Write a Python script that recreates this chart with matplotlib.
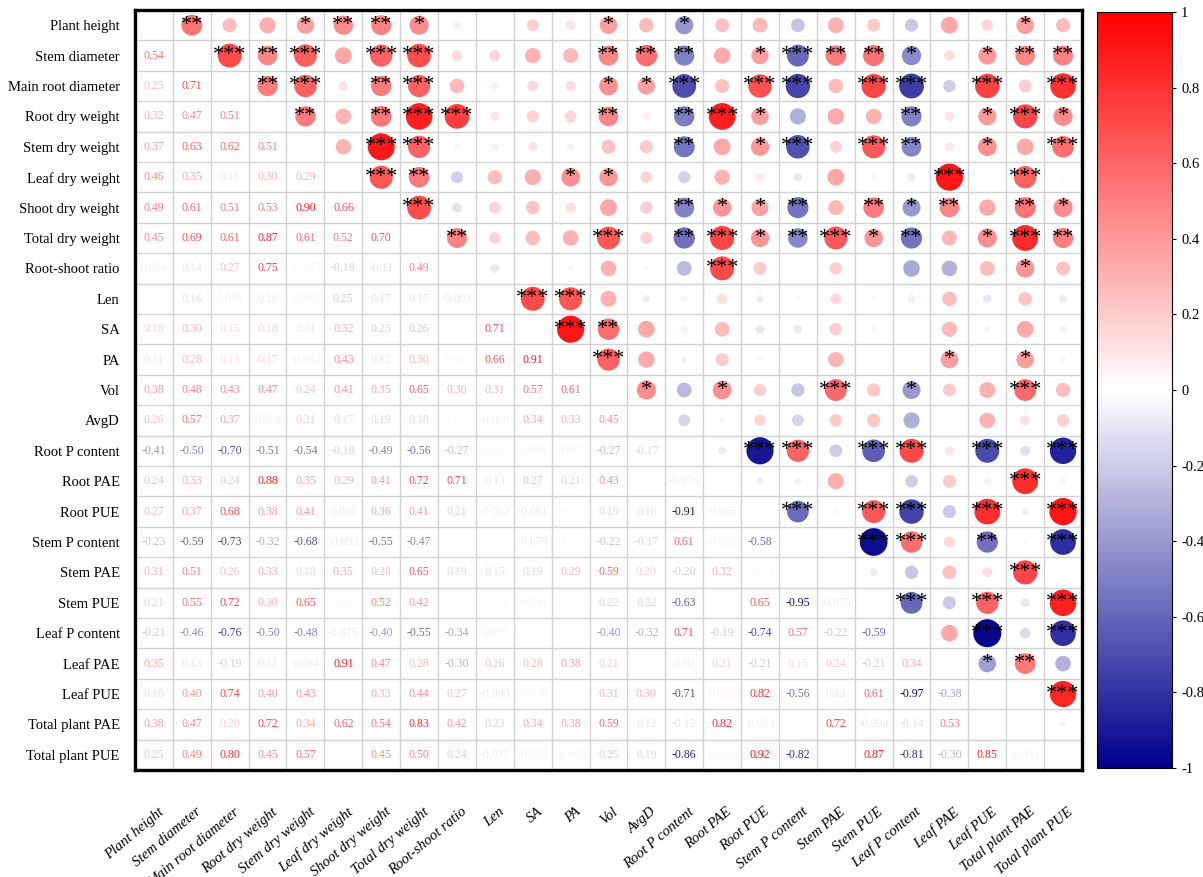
import numpy as np
import matplotlib.pyplot as plt
import matplotlib.transforms as mtransforms
from matplotlib.colors import LinearSegmentedColormap, Normalize
from matplotlib.cm import ScalarMappable
from matplotlib.ticker import FuncFormatter

plt.rcParams['font.family'] = ['Liberation Serif', 'DejaVu Serif']

variables = [
    "Plant height", "Stem diameter", "Main root diameter", "Root dry weight",
    "Stem dry weight", "Leaf dry weight", "Shoot dry weight", "Total dry weight",
    "Root-shoot ratio", "Len", "SA", "PA", "Vol", "AvgD", "Root P content",
    "Root PAE", "Root PUE", "Stem P content", "Stem PAE", "Stem PUE",
    "Leaf P content", "Leaf PAE", "Leaf PUE", "Total plant PAE", "Total plant PUE",
]

# lower triangle of the correlation matrix, row i holds columns 0..i-1
# (None = value not shown)
lower = [
    [],
    [0.54],
    [0.25, 0.71],
    [0.32, 0.47, 0.51],
    [0.37, 0.63, 0.62, 0.51],
    [0.46, 0.35, 0.11, 0.30, 0.29],
    [0.49, 0.61, 0.51, 0.53, 0.90, 0.66],
    [0.45, 0.69, 0.61, 0.87, 0.61, 0.52, 0.70],
    [0.064, 0.14, 0.27, 0.75, -0.037, -0.18, -0.11, 0.49],
    [None, 0.16, 0.078, 0.10, 0.065, 0.25, 0.17, 0.17, -0.093],
    [0.18, 0.30, 0.15, 0.18, 0.11, 0.32, 0.23, 0.26, None, 0.71],
    [0.11, 0.28, 0.13, 0.17, -0.062, 0.43, 0.13, 0.30, 0.045, 0.66, 0.91],
    [0.38, 0.48, 0.43, 0.47, 0.24, 0.41, 0.35, 0.65, 0.30, 0.31, 0.57, 0.61],
    [0.26, 0.57, 0.37, 0.068, 0.21, 0.17, 0.19, 0.18, -0.026, -0.069, 0.34, 0.33, 0.45],
    [-0.41, -0.50, -0.70, -0.51, -0.54, -0.18, -0.49, -0.56, -0.27, 0.047, 0.056, 0.057,
     -0.27, -0.17],
    [0.24, 0.33, 0.24, 0.88, 0.35, 0.29, 0.41, 0.72, 0.71, 0.13, 0.27, 0.21, 0.43, 0.034,
     -0.076],
    [0.27, 0.37, 0.68, 0.38, 0.41, 0.092, 0.36, 0.41, 0.21, -0.063, -0.091, -0.030, 0.19,
     0.16, -0.91, -0.065],
    [-0.23, -0.59, -0.73, -0.32, -0.68, -0.093, -0.55, -0.47, None, -0.028, -0.079, -0.017,
     -0.22, -0.17, 0.61, -0.056, -0.58],
    [0.31, 0.51, 0.26, 0.33, 0.18, 0.35, 0.28, 0.65, 0.19, 0.15, 0.19, 0.29, 0.59, 0.20,
     -0.20, 0.32, 0.039, None],
    [0.21, 0.55, 0.72, 0.30, 0.65, 0.045, 0.52, 0.42, -4.0e-4, -0.028, -0.041, -0.017, 0.22,
     0.22, -0.63, None, 0.65, -0.95, -0.075],
    [-0.21, -0.46, -0.76, -0.50, -0.48, -0.075, -0.40, -0.55, -0.34, 0.078, -0.0011, -0.016,
     -0.40, -0.32, 0.71, -0.19, -0.74, 0.57, -0.22, -0.59],
    [0.35, 0.13, -0.19, 0.11, 0.094, 0.91, 0.47, 0.28, -0.30, 0.26, 0.28, 0.38, 0.21, None,
     0.10, 0.21, -0.21, 0.15, 0.24, -0.21, 0.34],
    [0.16, 0.40, 0.74, 0.40, 0.43, None, 0.33, 0.44, 0.27, -0.090, -0.046, -0.0016, 0.31,
     0.30, -0.71, 0.063, 0.82, -0.56, 0.13, 0.61, -0.97, -0.38],
    [0.38, 0.47, 0.20, 0.72, 0.34, 0.62, 0.54, 0.83, 0.42, 0.23, 0.34, 0.38, 0.59, 0.12,
     -0.12, 0.82, -0.064, 0.026, 0.72, -0.094, -0.14, 0.53, None],
    [0.25, 0.49, 0.80, 0.45, 0.57, 0.026, 0.45, 0.50, 0.24, -0.077, -0.055, -0.043, 0.25,
     0.19, -0.86, 0.049, 0.92, -0.82, None, 0.87, -0.81, -0.30, 0.85, -0.044],
]

# significance stars for the upper triangle, row i holds columns i+1..24
stars = [
    [2, 0, 0, 1, 2, 2, 1, 0, 0, 0, 0, 1, 0, 1, 0, 0, 0, 0, 0, 0, 0, 0, 1, 0],
    [3, 2, 3, 0, 3, 3, 0, 0, 0, 0, 2, 2, 2, 0, 1, 3, 2, 2, 1, 0, 1, 2, 2],
    [2, 3, 0, 2, 3, 0, 0, 0, 0, 1, 1, 3, 0, 3, 3, 0, 3, 3, 0, 3, 0, 3],
    [2, 0, 2, 3, 3, 0, 0, 0, 2, 0, 2, 3, 1, 0, 0, 0, 2, 0, 1, 3, 1],
    [0, 3, 3, 0, 0, 0, 0, 0, 0, 2, 0, 1, 3, 0, 3, 2, 0, 1, 0, 3],
    [3, 2, 0, 0, 0, 1, 1, 0, 0, 0, 0, 0, 0, 0, 0, 3, 0, 3, 0],
    [3, 0, 0, 0, 0, 0, 0, 2, 1, 1, 2, 0, 2, 1, 2, 0, 2, 1],
    [2, 0, 0, 0, 3, 0, 2, 3, 1, 2, 3, 1, 2, 0, 1, 3, 2],
    [0, 0, 0, 0, 0, 0, 3, 0, 0, 0, 0, 0, 0, 0, 1, 0],
    [3, 3, 0, 0, 0, 0, 0, 0, 0, 0, 0, 0, 0, 0, 0],
    [3, 2, 0, 0, 0, 0, 0, 0, 0, 0, 0, 0, 0, 0],
    [3, 0, 0, 0, 0, 0, 0, 0, 0, 1, 0, 1, 0],
    [1, 0, 1, 0, 0, 3, 0, 1, 0, 0, 3, 0],
    [0, 0, 0, 0, 0, 0, 0, 0, 0, 0, 0],
    [0, 3, 3, 0, 3, 3, 0, 3, 0, 3],
    [0, 0, 0, 0, 0, 0, 0, 3, 0],
    [3, 0, 3, 3, 0, 3, 0, 3],
    [0, 3, 3, 0, 2, 0, 3],
    [0, 0, 0, 0, 3, 0],
    [3, 0, 3, 0, 3],
    [0, 3, 0, 3],
    [1, 2, 0],
    [0, 3],
    [0],
]

n = len(variables)
corr = np.full((n, n), np.nan)
for i, row in enumerate(lower):
    for j, v in enumerate(row):
        if v is not None:
            corr[i, j] = v
            corr[j, i] = v


def fmt_r(v):
    if abs(v) >= 0.1:
        return f"{v:.2f}"
    if abs(v) < 0.001:
        exp = int(np.floor(np.log10(abs(v))))
        return f"{v / 10 ** exp:.1f}E{exp}"
    return f"{v:#.2g}"


cmap = LinearSegmentedColormap.from_list("blue_white_red", ["#00008B", "#FFFFFF", "#FF0000"])
norm = Normalize(vmin=-1, vmax=1)

fig = plt.figure(figsize=(12.03, 8.77), dpi=100)
ax = fig.add_axes([0.1122, 0.1220, 0.7872, 0.8666])
ax.set_xlim(-0.5, n - 0.5)
ax.set_ylim(n - 0.5, -0.5)

for k in range(1, n):
    ax.axhline(k - 0.5, color="#d2d2d2", lw=1.0, zorder=1)
    ax.axvline(k - 0.5, color="#d2d2d2", lw=1.0, zorder=1)

# upper triangle: circles sized and coloured by r, plus stars
xs, ys, vs = [], [], []
for i in range(n):
    for j in range(i + 1, n):
        if not np.isnan(corr[i, j]):
            xs.append(j)
            ys.append(i)
            vs.append(corr[i, j])
vs = np.array(vs)
ax.scatter(xs, ys, s=420 * np.abs(vs), c=vs, cmap=cmap, norm=norm,
           edgecolors="none", zorder=3)

for i, row in enumerate(stars):
    for k, cnt in enumerate(row):
        if cnt:
            ax.text(i + 1 + k, i, "*" * cnt, ha="center", va="center",
                    fontsize=16, color="black", zorder=4)

# lower triangle: coefficients as text
for i in range(n):
    for j in range(i):
        v = corr[i, j]
        if not np.isnan(v):
            ax.text(j, i, fmt_r(v), ha="center", va="center", fontsize=8.5,
                    color=cmap(norm(v)), zorder=4)

ax.set_xticks(range(n))
ax.set_yticks(range(n))
ax.set_yticklabels(variables, fontsize=10.5)
ax.set_xticklabels(variables, fontsize=10.5, style="italic", rotation=40,
                   ha="right", va="center", rotation_mode="anchor")
ax.tick_params(axis="both", length=0)
ax.tick_params(axis="y", pad=11)
ax.tick_params(axis="x", pad=29)
# nudge the slanted labels a little to the right of the column centres
shift = mtransforms.ScaledTranslation(8 / 100, 0, fig.dpi_scale_trans)
for lab in ax.get_xticklabels():
    lab.set_transform(lab.get_transform() + shift)
for sp in ax.spines.values():
    sp.set_linewidth(2.4)
    sp.set_color("black")
    sp.set_zorder(5)

cax = fig.add_axes([1097 / 1203, 1 - 768 / 877, 75 / 1203, 756 / 877])
cb = fig.colorbar(ScalarMappable(norm=norm, cmap=cmap), cax=cax,
                  ticks=np.linspace(-1, 1, 11))
cb.ax.yaxis.set_major_formatter(FuncFormatter(lambda v, p: f"{round(v, 1) + 0.0:g}"))
cb.ax.tick_params(labelsize=10.5, length=3, width=0.8)
cb.outline.set_linewidth(0.8)

fig.savefig("out.png", dpi=100)
